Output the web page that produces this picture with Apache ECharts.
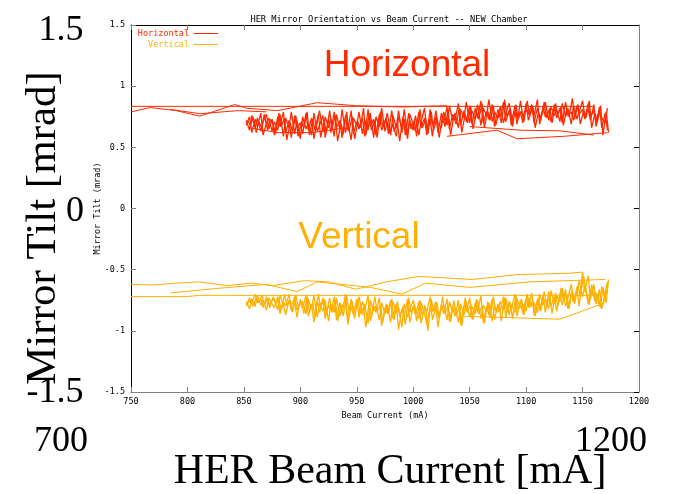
<!DOCTYPE html>
<html>
<head>
<meta charset="utf-8">
<script src="https://cdn.jsdelivr.net/npm/echarts@6/dist/echarts.min.js"></script>
<style>html,body{margin:0;padding:0;background:#fff}#c{width:680px;height:494px}</style>
</head>
<body>
<div id="c"></div>
<script>
// ---- data ----
const titleText = 'HER Mirror Orientation vs Beam Current -- NEW Chamber';
const xName = 'Beam Current (mA)';
const yName = 'Mirror Tilt (mrad)';
const seriesNames = ['Horizontal', 'Vertical'];

// dense band, forward pass x (mA)
const bandFwdX = [852,855,857,860,862,865,867,870,872,875,877,880,882,885,887,890,892,895,897,900,902,905,907,910,912,915,917,920,922,925,927,930,932,935,937,940,942,945,947,950,952,955,957,960,962,965,967,970,972,975,977,980,982,985,987,990,992,995,997,1000,1002,1005,1007,1010,1012,1015,1017,1020,1022,1025,1027,1030,1032,1035,1037,1040,1042,1045,1047,1050,1052,1055,1057,1060,1062,1065,1067,1070,1072,1075,1077,1080,1082,1085,1087,1090,1092,1095,1097,1100,1102,1105,1107,1110,1112,1115,1117,1120,1122,1125,1127,1130,1132,1135,1137,1140,1142,1145,1147,1150,1152,1155,1157,1160,1162,1165,1167,1170,1172];
// dense band, backward pass x (mA)
const bandBackX = [1173,1171,1168,1166,1163,1161,1158,1156,1153,1151,1148,1146,1143,1141,1138,1136,1133,1131,1128,1126,1123,1121,1118,1116,1113,1111,1108,1106,1103,1101,1098,1096,1093,1091,1088,1086,1083,1081,1078,1076,1073,1071,1068,1066,1063,1061,1058,1056,1053,1051,1048,1046,1043,1041,1038,1036,1033,1031,1028,1026,1023,1021,1018,1016,1013,1011,1008,1006,1003,1001,998,996,993,991,988,986,983,981,978,976,973,971,968,966,963,961,958,956,953,951,948,946,943,941,938,936,933,931,928,926,923,921,918,916,913,911,908,906,903,901,898,896,893,891,888,886,883,881,878,876,873,871,868,866,863,861,858,856,853];

const hBandFwdY = [0.72,0.64,0.76,0.66,0.74,0.63,0.71,0.77,0.65,0.73,
0.60,0.75,0.67,0.79,0.62,0.72,0.58,0.76,0.66,0.70,
0.61,0.78,0.64,0.74,0.57,0.71,0.80,0.63,0.75,0.66,
0.73,0.59,0.77,0.65,0.81,0.62,0.70,0.56,0.74,0.68,
0.79,0.61,0.72,0.64,0.78,0.58,0.75,0.67,0.82,0.63,
0.71,0.60,0.76,0.66,0.80,0.62,0.73,0.57,0.77,0.69,
0.63,0.79,0.66,0.74,0.60,0.81,0.68,0.75,0.62,0.78,
0.70,0.83,0.65,0.77,0.72,0.86,0.68,0.80,0.71,0.84,
0.69,0.82,0.74,0.88,0.70,0.79,0.73,0.85,0.67,0.81,
0.75,0.87,0.71,0.80,0.68,0.84,0.74,0.79,0.70,0.86,
0.72,0.81,0.76,0.89,0.69,0.83,0.75,0.80,0.71,0.85,
0.74,0.82,0.70,0.87,0.76,0.79,0.72,0.84,0.77,0.81,
0.73,0.86,0.75,0.80,0.70,0.83,0.66,0.78,0.64];
const hBandBackY = [0.62,0.79,0.60,0.84,0.71,0.78,0.66,0.88,0.74,0.80,
0.69,0.85,0.73,0.90,0.75,0.81,0.68,0.83,0.77,0.86,
0.70,0.82,0.74,0.87,0.72,0.79,0.66,0.84,0.76,0.88,
0.71,0.80,0.73,0.85,0.67,0.82,0.75,0.89,0.70,0.78,
0.68,0.84,0.72,0.80,0.66,0.86,0.73,0.79,0.65,0.83,
0.70,0.77,0.62,0.82,0.69,0.75,0.60,0.80,0.67,0.76,
0.58,0.74,0.64,0.79,0.61,0.73,0.66,0.81,0.59,0.72,
0.65,0.78,0.60,0.75,0.55,0.70,0.63,0.80,0.61,0.74,
0.67,0.79,0.58,0.72,0.64,0.77,0.60,0.82,0.66,0.71,
0.57,0.75,0.63,0.79,0.61,0.70,0.55,0.76,0.65,0.80,
0.62,0.72,0.58,0.77,0.64,0.73,0.60,0.79,0.66,0.71,
0.59,0.76,0.63,0.70,0.56,0.74,0.67,0.78,0.61,0.69,
0.73,0.64,0.77,0.66,0.71,0.62,0.75,0.68,0.72];
const hBandP3Y = [0.68,0.75,0.62,0.73,0.67,0.78,0.60,0.70,0.74,0.63,
0.71,0.64,0.77,0.59,0.74,0.66,0.79,0.61,0.72,0.57,
0.75,0.65,0.70,0.60,0.78,0.63,0.68,0.76,0.58,0.73,
0.62,0.79,0.66,0.72,0.58,0.76,0.64,0.80,0.61,0.71,
0.65,0.74,0.59,0.81,0.67,0.73,0.60,0.77,0.64,0.70,
0.78,0.63,0.69,0.59,0.75,0.66,0.81,0.61,0.72,0.64,
0.76,0.60,0.71,0.82,0.65,0.73,0.59,0.80,0.69,0.66,
0.79,0.68,0.84,0.72,0.78,0.66,0.81,0.74,0.87,0.70,
0.80,0.73,0.85,0.68,0.82,0.76,0.89,0.71,0.79,0.74,
0.83,0.70,0.78,0.86,0.73,0.80,0.69,0.88,0.75,0.81,
0.77,0.85,0.70,0.82,0.74,0.79,0.87,0.72,0.83,0.76,
0.80,0.71,0.86,0.75,0.82,0.69,0.84,0.73,0.79,0.88,
0.76,0.81,0.72,0.85,0.67,0.79,0.74,0.70,0.82];

const vBandFwdY = [-0.76,-0.82,-0.74,-0.80,-0.71,-0.79,-0.75,-0.83,-0.73,-0.78,
-0.81,-0.72,-0.86,-0.76,-0.80,-0.70,-0.84,-0.77,-0.89,-0.74,
-0.82,-0.71,-0.88,-0.78,-0.93,-0.75,-0.85,-0.73,-0.90,-0.79,
-0.84,-0.72,-0.91,-0.77,-0.86,-0.70,-0.95,-0.80,-0.87,-0.74,
-0.89,-0.76,-0.83,-0.71,-0.92,-0.79,-0.85,-0.73,-0.96,-0.81,
-0.86,-0.75,-0.90,-0.78,-0.99,-0.82,-0.88,-0.74,-0.93,-0.80,
-0.87,-0.76,-0.94,-0.79,-0.85,-0.72,-0.91,-0.81,-0.97,-0.78,
-0.86,-0.74,-0.92,-0.80,-0.88,-0.75,-0.95,-0.79,-0.84,-0.73,
-0.90,-0.77,-0.85,-0.71,-0.93,-0.80,-0.87,-0.74,-0.91,-0.78,
-0.84,-0.72,-0.89,-0.76,-0.82,-0.70,-0.88,-0.75,-0.86,-0.73,
-0.81,-0.69,-0.87,-0.74,-0.83,-0.71,-0.85,-0.68,-0.80,-0.72,
-0.84,-0.70,-0.79,-0.66,-0.82,-0.69,-0.77,-0.64,-0.80,-0.52,
-0.68,-0.55,-0.74,-0.62,-0.78,-0.66,-0.82,-0.70,-0.60];
const vBandBackY = [-0.58,-0.77,-0.64,-0.81,-0.70,-0.76,-0.62,-0.79,-0.66,-0.55,
-0.72,-0.63,-0.78,-0.67,-0.82,-0.70,-0.75,-0.65,-0.80,-0.69,
-0.86,-0.72,-0.79,-0.68,-0.84,-0.73,-0.88,-0.75,-0.81,-0.70,
-0.87,-0.74,-0.83,-0.71,-0.90,-0.77,-0.85,-0.73,-0.92,-0.79,
-0.84,-0.72,-0.89,-0.76,-0.94,-0.80,-0.86,-0.74,-0.91,-0.78,
-0.85,-0.73,-0.96,-0.80,-0.88,-0.75,-0.93,-0.79,-0.86,-0.72,
-0.90,-0.77,-0.84,-0.74,-1.00,-0.81,-0.87,-0.75,-0.92,-0.79,
-0.85,-0.73,-0.95,-0.80,-0.88,-0.76,-0.91,-0.74,-0.86,-0.78,
-0.93,-0.79,-0.84,-0.72,-0.89,-0.77,-0.97,-0.81,-0.86,-0.74,
-0.90,-0.76,-0.83,-0.71,-0.88,-0.78,-0.92,-0.75,-0.85,-0.73,
-0.87,-0.74,-0.81,-0.70,-0.89,-0.77,-0.84,-0.72,-0.86,-0.76,
-0.80,-0.71,-0.85,-0.75,-0.79,-0.70,-0.83,-0.74,-0.78,-0.72,
-0.81,-0.74,-0.79,-0.71,-0.77,-0.73,-0.80,-0.75,-0.78];
const vBandP3Y = [-0.80,-0.73,-0.78,-0.70,-0.77,-0.74,-0.81,-0.72,-0.79,-0.75,
-0.74,-0.83,-0.71,-0.79,-0.87,-0.75,-0.80,-0.72,-0.83,-0.78,
-0.76,-0.86,-0.74,-0.82,-0.71,-0.89,-0.77,-0.84,-0.75,-0.92,
-0.78,-0.85,-0.73,-0.88,-0.80,-0.76,-0.90,-0.74,-0.83,-0.79,
-0.72,-0.87,-0.78,-0.94,-0.75,-0.84,-0.80,-0.91,-0.77,-0.86,
-0.79,-0.93,-0.76,-0.85,-0.81,-0.97,-0.78,-0.89,-0.83,-0.75,
-0.82,-0.90,-0.77,-0.86,-0.95,-0.80,-0.84,-0.76,-0.88,-0.82,
-0.79,-0.91,-0.76,-0.85,-0.81,-0.93,-0.78,-0.87,-0.76,-0.89,
-0.80,-0.86,-0.75,-0.90,-0.79,-0.84,-0.77,-0.92,-0.80,-0.85,
-0.76,-0.83,-0.73,-0.87,-0.79,-0.85,-0.74,-0.81,-0.78,-0.84,
-0.73,-0.80,-0.77,-0.85,-0.70,-0.79,-0.74,-0.82,-0.67,-0.78,
-0.71,-0.76,-0.65,-0.80,-0.73,-0.62,-0.75,-0.68,-0.59,-0.72,
-0.63,-0.78,-0.66,-0.72,-0.69,-0.80,-0.64,-0.76,-0.62];

// sparse connecting traces
const hFlatX = [750,1160], hFlatY = [0.835,0.835];
const hWaveX = [750,767,790,811,842,852,880,915,950,990,1030];
const hWaveY = [0.79,0.825,0.80,0.755,0.85,0.82,0.80,0.865,0.84,0.83,0.84];
const hWave2X = [785,811,845,870], hWave2Y = [0.81,0.775,0.80,0.79];
const hLow1X = [855,880,911,940], hLow1Y = [0.66,0.62,0.62,0.66];
const hLow2X = [1030,1074,1092,1133,1172], hLow2Y = [0.59,0.64,0.57,0.59,0.62];
const hLow3X = [1050,1095,1130,1160], hLow3Y = [0.67,0.64,0.635,0.60];

const vFlatX = [750,800,810,1165], vFlatY = [-0.72,-0.72,-0.71,-0.71];
const vWave1X = [750,770,790,810,835,857,875,904,925,949,976,1005,1052,1093,1137,1150];
const vWave1Y = [-0.62,-0.625,-0.61,-0.60,-0.63,-0.61,-0.63,-0.59,-0.60,-0.66,-0.60,-0.555,-0.58,-0.54,-0.53,-0.52];
const vWave2X = [785,830,870,897,915,962,990,1011,1050,1103,1170];
const vWave2Y = [-0.69,-0.65,-0.62,-0.68,-0.60,-0.645,-0.70,-0.61,-0.645,-0.60,-0.58];
const vLowX = [1042,1130,1170], vLowY = [-0.88,-0.905,-0.77];

// ---- build chart ----
const RED = '#ff2a00', ORANGE = '#ffb000';
const MONO = 'DejaVu Sans Mono';
const SERIF = 'Liberation Serif';
const zip = (xs, ys) => xs.map((x, i) => [x, ys[i]]);
const mk = (name, color, xs, ys, w) => ({
  name, type: 'line', data: zip(xs, ys), symbol: 'none', showSymbol: false,
  lineStyle: { color, width: w || 1 }, itemStyle: { color }, animation: false, clip: true, z: 3
});
const series = [
  mk('Horizontal', RED, hFlatX, hFlatY),
  mk('Horizontal', RED, hWaveX, hWaveY),
  mk('Horizontal', RED, hWave2X, hWave2Y),
  mk('Horizontal', RED, hLow1X, hLow1Y),
  mk('Horizontal', RED, hLow2X, hLow2Y),
  mk('Horizontal', RED, hLow3X, hLow3Y),
  mk('Horizontal', RED, bandFwdX, hBandFwdY, 1.3),
  mk('Horizontal', RED, bandBackX, hBandBackY, 1.3),
  mk('Horizontal', RED, bandFwdX, hBandP3Y, 1.3),
  mk('Vertical', ORANGE, vFlatX, vFlatY),
  mk('Vertical', ORANGE, vWave1X, vWave1Y),
  mk('Vertical', ORANGE, vWave2X, vWave2Y),
  mk('Vertical', ORANGE, vLowX, vLowY),
  mk('Vertical', ORANGE, bandFwdX, vBandFwdY, 1.3),
  mk('Vertical', ORANGE, bandBackX, vBandBackY, 1.3),
  mk('Vertical', ORANGE, bandFwdX, vBandP3Y, 1.3)
];

const axisFont = { fontFamily: MONO, fontSize: 8.5, color: '#000' };
const legendBase = {
  orient: 'vertical', align: 'right', right: 462, itemWidth: 24, itemHeight: 1,
  icon: 'rect', selectedMode: false, padding: 0, itemGap: 0,
  textStyle: { fontFamily: MONO, fontSize: 8.5 }
};
const big = (text, x, y, size) => ({
  type: 'text', x, y, z: 10,
  style: { text, fontFamily: SERIF, fontSize: size, fill: '#000', align: 'center', verticalAlign: 'middle' }
});

const chart = echarts.init(document.getElementById('c'), null, { renderer: 'canvas' });
chart.setOption({
  animation: false,
  backgroundColor: '#fff',
  title: { text: titleText, left: 384, top: 10, textAlign: 'center',
           textStyle: { fontFamily: MONO, fontSize: 8.7, fontWeight: 'normal', color: '#000' } },
  legend: [
    Object.assign({}, legendBase, { top: 29, data: [{ name: 'Horizontal', textStyle: { color: RED } }] }),
    Object.assign({}, legendBase, { top: 40, data: [{ name: 'Vertical', textStyle: { color: ORANGE } }] })
  ],
  grid: { left: 131, right: 41, top: 25, bottom: 102, containLabel: false },
  xAxis: [
    { type: 'value', min: 750, max: 1200, interval: 50, position: 'bottom',
      name: xName, nameLocation: 'middle', nameGap: 17, nameTextStyle: axisFont,
      axisLine: { show: true, onZero: false, lineStyle: { color: '#808080', width: 1 } },
      axisTick: { show: true, inside: true, length: 5, lineStyle: { color: '#808080' } },
      axisLabel: Object.assign({ margin: 5, formatter: v => String(v) }, axisFont), splitLine: { show: false } },
    { type: 'value', min: 750, max: 1200, interval: 50, position: 'top',
      axisLine: { show: true, onZero: false, lineStyle: { color: '#000', width: 1 } },
      axisTick: { show: true, inside: true, length: 5, lineStyle: { color: '#808080' } },
      axisLabel: { show: false }, splitLine: { show: false } }
  ],
  yAxis: [
    { type: 'value', min: -1.5, max: 1.5, interval: 0.5, position: 'left',
      name: yName, nameLocation: 'middle', nameGap: 29, nameRotate: 90, nameMoveOverlap: false,
      nameTextStyle: axisFont,
      axisLine: { show: true, onZero: false, lineStyle: { color: '#000', width: 1 } },
      axisTick: { show: true, inside: true, length: 5, lineStyle: { color: '#808080' } },
      axisLabel: Object.assign({ margin: 6, formatter: v => String(v) }, axisFont), splitLine: { show: false } },
    { type: 'value', min: -1.5, max: 1.5, interval: 0.5, position: 'right',
      axisLine: { show: true, onZero: false, lineStyle: { color: '#808080', width: 1 } },
      axisTick: { show: true, inside: true, length: 5, lineStyle: { color: '#000' } },
      axisLabel: { show: false }, splitLine: { show: false } }
  ],
  series,
  graphic: [
    big('1.5', 61, 31, 36),
    big('0', 75, 212, 36),
    big('-1.5', 55, 393, 36),
    big('700', 61, 442, 36),
    big('1200', 611, 442, 36),
    big('HER Beam Current [mA]', 390, 472, 42),
    { type: 'text', x: 44, y: 228, rotation: Math.PI / 2, z: 10,
      style: { text: 'Mirror Tilt [mrad]', fontFamily: SERIF, fontSize: 43, fill: '#000', align: 'center', verticalAlign: 'middle' } },
    { type: 'text', x: 407, y: 66, z: 10,
      style: { text: 'Horizontal', fontFamily: 'Liberation Sans', fontSize: 37, fill: RED, align: 'center', verticalAlign: 'middle' } },
    { type: 'text', x: 359, y: 238, z: 10,
      style: { text: 'Vertical', fontFamily: 'Liberation Sans', fontSize: 37, fill: ORANGE, align: 'center', verticalAlign: 'middle' } }
  ]
});
</script>
</body>
</html>
